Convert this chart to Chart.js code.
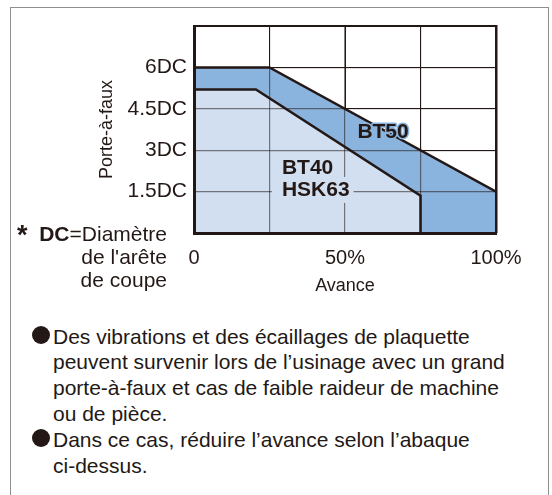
<!DOCTYPE html>
<html lang="fr">
<head>
<meta charset="utf-8">
<script src="https://cdn.jsdelivr.net/npm/chart.js@4"></script>
<style>
  html, body { margin: 0; padding: 0; background: #fff; }
  body {
    width: 552px; height: 495px; position: relative; overflow: hidden;
    font-family: "Liberation Sans", Arial, sans-serif; color: #231815;
  }
  .cadre {
    position: absolute; left: 10px; top: 7px; width: 539px; height: 510px;
    border: 1.5px solid #8f8f8f; box-sizing: border-box;
  }
  #graphe { position: absolute; left: 0; top: 0; }
  .renvoi {
    position: absolute; right: 385px; top: 223.4px;
    font-size: 21px; line-height: 22.7px; text-align: right; white-space: nowrap;
  }
  .etoile {
    position: absolute; left: 17px; top: 222px;
    font-size: 27px; font-weight: bold; line-height: 26px;
  }
  .consignes {
    position: absolute; left: 53px; top: 323.7px; margin: 0; padding: 0;
    list-style: none; font-size: 21px; line-height: 25.8px; white-space: nowrap;
  }
  .consignes li { position: relative; }
  .consignes li::before {
    content: ""; position: absolute; left: -21px; top: 2.5px;
    width: 18px; height: 18px; border-radius: 50%; background: #231815;
  }
</style>
</head>
<body>
<div class="cadre"></div>
<canvas id="graphe" width="552" height="300"></canvas>
<div class="etoile">*</div>
<div class="renvoi"><b>DC</b>=Diamètre<br>de l'arête<br>de coupe</div>
<ul class="consignes">
  <li>Des vibrations et des écaillages de plaquette<br>peuvent survenir lors de l’usinage avec un grand<br>porte-à-faux et cas de faible raideur de machine<br>ou de pièce.</li>
  <li>Dans ce cas, réduire l’avance selon l’abaque<br>ci-dessus.</li>
</ul>
<script>
// Abaque : porte-à-faux admissible selon l'avance
const avanceTicks = [0, 25, 50, 75, 100];
const avanceLabels = ['0', '', '50%', '', '100%'];
const porteTicks = [0, 1.5, 3, 4.5, 6, 7.5];
const porteLabels = ['', '1.5DC', '3DC', '4.5DC', '6DC', ''];

const bt50Avance = [0, 25, 100];
const bt50Porte = [6, 6, 1.5];
const bt40Avance = [0, 20.5, 75, 75];
const bt40Porte = [5.2, 5.2, 1.35, 0];

const zoneLabels = ['BT50', 'BT40', 'HSK63'];
const zoneLabelAvance = [62.6, 29.1, 29.1];
const zoneLabelPorte = [3.66, 2.36, 1.56];

const NOIR = '#231815';
const BLEU_FONCE = '#8ab3de';
const BLEU_CLAIR = '#d2dff1';

Chart.defaults.font.family = '"Liberation Sans", Arial, sans-serif';
Chart.defaults.color = NOIR;

function points(xs, ys) {
  return xs.map((x, i) => ({ x: x, y: ys[i] }));
}

// textes BT50 / BT40 / HSK63 posés dans les zones
const texteZones = {
  id: 'texteZones',
  afterDraw(chart) {
    const { ctx } = chart;
    const x = chart.scales.x, y = chart.scales.y;
    ctx.save();
    ctx.font = 'bold 21px "Liberation Sans", Arial, sans-serif';
    ctx.textBaseline = 'middle';
    ctx.lineJoin = 'round';

    // BT50 centré dans la bande foncée
    let px = x.getPixelForValue(zoneLabelAvance[0]);
    let py = y.getPixelForValue(zoneLabelPorte[0]);
    ctx.textAlign = 'center';
    ctx.strokeStyle = BLEU_FONCE;
    ctx.lineWidth = 3;
    ctx.strokeText(zoneLabels[0], px, py);
    ctx.fillStyle = NOIR;
    ctx.fillText(zoneLabels[0], px, py);

    // BT40 / HSK63 alignés à gauche
    ctx.textAlign = 'left';
    for (let i = 1; i < zoneLabels.length; i++) {
      px = x.getPixelForValue(zoneLabelAvance[i]);
      py = y.getPixelForValue(zoneLabelPorte[i]);
      if (i === 2) {
        const w = ctx.measureText(zoneLabels[i]).width;
        ctx.fillStyle = BLEU_CLAIR;
        ctx.fillRect(px - 10, py - 13, w + 14, 26);
      }
      ctx.fillStyle = NOIR;
      ctx.fillText(zoneLabels[i], px, py);
    }
    ctx.restore();
  }
};

new Chart(document.getElementById('graphe'), {
  type: 'scatter',
  data: {
    datasets: [
      {
        label: 'BT40 / HSK63',
        data: points(bt40Avance, bt40Porte),
        showLine: true,
        fill: 'origin',
        backgroundColor: BLEU_CLAIR,
        borderColor: NOIR,
        borderWidth: 2.5,
        pointRadius: 0,
        tension: 0
      },
      {
        label: 'BT50',
        data: points(bt50Avance, bt50Porte),
        showLine: true,
        fill: 'origin',
        backgroundColor: BLEU_FONCE,
        borderColor: NOIR,
        borderWidth: 2.5,
        pointRadius: 0,
        tension: 0
      }
    ]
  },
  options: {
    responsive: false,
    animation: false,
    devicePixelRatio: 1,
    layout: { padding: { left: 0, top: 26, right: 56, bottom: 0 } },
    plugins: { legend: { display: false }, tooltip: { enabled: false } },
    scales: {
      x: {
        type: 'linear', position: 'bottom', min: 0, max: 100,
        afterBuildTicks: s => { s.ticks = avanceTicks.map(v => ({ value: v })); },
        afterFit: s => { s.height = 67; },
        ticks: {
          autoSkip: false, maxRotation: 0, padding: 13,
          font: { size: 20 },
          callback: (v, i) => avanceLabels[i]
        },
        grid: { color: NOIR, lineWidth: 1, drawTicks: false },
        border: { color: NOIR, width: 3, z: 1 },
        title: { display: true, text: 'Avance', font: { size: 18 }, padding: { top: 0, bottom: 3 } }
      },
      y: {
        type: 'linear', position: 'left', min: 0, max: 7.5,
        afterBuildTicks: s => { s.ticks = porteTicks.map(v => ({ value: v })); },
        afterFit: s => { s.width = 194; },
        ticks: {
          autoSkip: false, padding: 7,
          font: { size: 21 },
          callback: (v, i) => porteLabels[i]
        },
        grid: { color: NOIR, lineWidth: 1, drawTicks: false },
        border: { color: NOIR, width: 3, z: 1 },
        title: { display: true, text: 'Porte-à-faux', font: { size: 18 }, padding: { top: 96, bottom: 0 } }
      },
      // quadrillage repassé par-dessus les zones + cadre haut/droit
      x2: {
        type: 'linear', position: 'top', min: 0, max: 100,
        afterBuildTicks: s => { s.ticks = avanceTicks.map(v => ({ value: v })); },
        afterFit: s => { s.height = 0; },
        ticks: { display: false },
        grid: { color: 'rgba(35,24,21,0.55)', lineWidth: 1.2, drawTicks: false, z: 1 },
        border: { color: NOIR, width: 2, z: 1 }
      },
      y2: {
        type: 'linear', position: 'right', min: 0, max: 7.5,
        afterBuildTicks: s => { s.ticks = porteTicks.map(v => ({ value: v })); },
        afterFit: s => { s.width = 0; },
        ticks: { display: false },
        grid: { color: 'rgba(35,24,21,0.55)', lineWidth: 1.2, drawTicks: false, z: 1 },
        border: { color: NOIR, width: 2.5, z: 1 }
      }
    }
  },
  plugins: [texteZones]
});
</script>
</body>
</html>
